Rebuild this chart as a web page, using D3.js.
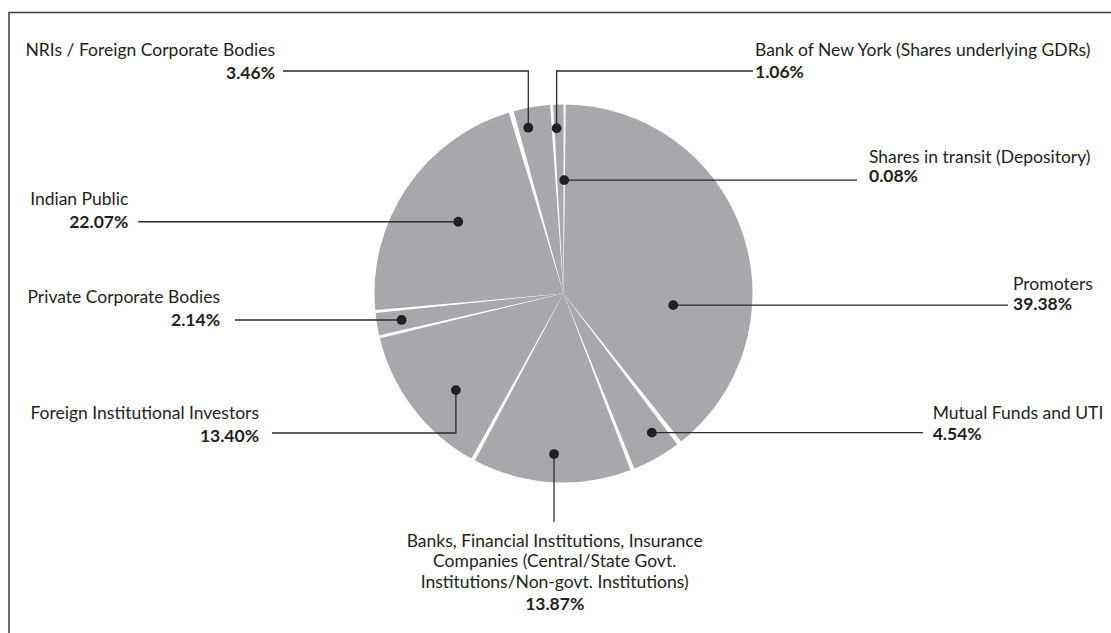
<!DOCTYPE html>
<html>
<head>
<meta charset="utf-8">
<script src="https://cdn.jsdelivr.net/npm/d3@7/dist/d3.min.js"></script>
<style>
  html, body { margin: 0; padding: 0; background: #ffffff; }
  svg { display: block; }
  text { font-family: Lato, "Open Sans", "Noto Sans", sans-serif; fill: #231f20; }
</style>
</head>
<body>
<svg id="chart" width="1111" height="633"></svg>
<script>
// Shareholding pattern (percent of equity)
const categories = [
  ["Promoters"],
  ["Mutual Funds and UTI"],
  ["Banks, Financial Institutions, Insurance", "Companies (Central/State Govt.", "Institutions/Non-govt. Institutions)"],
  ["Foreign Institutional Investors"],
  ["Private Corporate Bodies"],
  ["Indian Public"],
  ["NRIs / Foreign Corporate Bodies"],
  ["Bank of New York (Shares underlying GDRs)"],
  ["Shares in transit (Depository)"]
];
const shares = [39.38, 4.54, 13.87, 13.40, 2.14, 22.07, 3.46, 1.06, 0.08];

// ---- layout ----
const W = 1111, H = 633;
const cx = 563.5, cy = 293.5, R = 189;
const startOffset = 0.5 * Math.PI / 180;
const sliceFill = "#a7a8ab";
const ink = "#231f20";
const fontSize = 17.5;

// white separator width (px at the rim) before each slice
const gapPx = [1.2, 5, 4, 4, 3, 3, 5, 3, 1.2];

// callout anchor: position inside slice (t along the angle, rf of radius),
// leader route and label placement
const callouts = [
  { t: 0.674, rf: 0.584, route: [["h", 1008]], lx: 1013, anchor: "start", ly: [290, 309.5] },
  { t: 0.326, rf: 0.872, route: [["h", 923]], lx: 932.7, anchor: "start", ly: [419.3, 439.5] },
  { t: 0.496, rf: 0.851, route: [["v", 522]], lx: 554.7, anchor: "middle", ly: [546.7, 567.3, 587.5, 609.5] },
  { t: 0.405, rf: 0.765, route: [["v", 433], ["h", 272]], lx: 259, anchor: "end", ly: [419.3, 441.5] },
  { t: 0.51, rf: 0.868, route: [["h", 235]], lx: 220, anchor: "end", ly: [303.3, 326] },
  { t: 0.501, rf: 0.674, route: [["h", 138.3]], lx: 128.3, anchor: "end", ly: [205, 227.5] },
  { t: 0.327, rf: 0.897, route: [["v", 71], ["h", 283]], lx: 275, anchor: "end", ly: [56, 79] },
  { t: 0.32, rf: 0.875, route: [["v", 71], ["h", 753]], lx: 755, anchor: "start", ly: [55.5, 77.5] },
  { t: 0.5, rf: 0.6, route: [["h", 857]], lx: 869, anchor: "start", ly: [162.5, 182] }
];

const svg = d3.select("#chart");

// frame: top and left rules
svg.append("path")
  .attr("d", `M9,${H} L9,12.5 L${W},12.5`)
  .attr("fill", "none")
  .attr("stroke", "#3a3a3a")
  .attr("stroke-width", 1.5);

const pie = d3.pie()
  .sort(null)
  .value(d => d)
  .startAngle(startOffset)
  .endAngle(startOffset + 2 * Math.PI);

const arcs = pie(shares);
const arc = d3.arc().innerRadius(0).outerRadius(R);

const g = svg.append("g").attr("transform", `translate(${cx},${cy})`);

g.selectAll("path.slice")
  .data(arcs)
  .join("path")
  .attr("class", "slice")
  .attr("d", arc)
  .attr("fill", sliceFill);

// tapered white separators between slices
const sepArc = d3.arc().innerRadius(0).outerRadius(R + 2);
g.selectAll("path.sep")
  .data(arcs)
  .join("path")
  .attr("class", "sep")
  .attr("d", (d, i) => {
    const half = gapPx[i] / R / 2;
    return sepArc({ startAngle: d.startAngle - half, endAngle: d.startAngle + half });
  })
  .attr("fill", "#ffffff");

// callout anchors computed inside each slice
const anchors = arcs.map((d, i) => {
  const c = callouts[i];
  const a = d.startAngle + c.t * (d.endAngle - d.startAngle);
  const r = c.rf * R;
  return [cx + r * Math.sin(a), cy - r * Math.cos(a)];
});

// leader lines
const line = d3.line();
svg.append("g")
  .selectAll("path")
  .data(callouts)
  .join("path")
  .attr("d", (c, i) => {
    let [x, y] = anchors[i];
    const pts = [[x, y]];
    c.route.forEach(([dir, v]) => {
      if (dir === "h") x = v; else y = v;
      pts.push([x, y]);
    });
    return line(pts);
  })
  .attr("fill", "none")
  .attr("stroke", "#2b2b2b")
  .attr("stroke-width", 1.3);

// anchor dots
svg.append("g")
  .selectAll("circle")
  .data(anchors)
  .join("circle")
  .attr("cx", d => d[0])
  .attr("cy", d => d[1])
  .attr("r", 4.9)
  .attr("fill", ink);

// labels: category name lines, then the bold percentage
const fmt = d3.format(".2f");
const labels = svg.append("g")
  .selectAll("text")
  .data(callouts.map((c, i) => ({ c, i })))
  .join("text")
  .attr("text-anchor", d => d.c.anchor)
  .attr("font-size", fontSize);

labels.each(function (d) {
  const t = d3.select(this);
  const lines = categories[d.i];
  lines.forEach((s, k) => {
    t.append("tspan")
      .attr("x", d.c.lx)
      .attr("y", d.c.ly[k])
      .text(s);
  });
  t.append("tspan")
    .attr("x", d.c.lx)
    .attr("y", d.c.ly[lines.length])
    .attr("font-weight", 700)
    .text(fmt(shares[d.i]) + "%");
});
</script>
</body>
</html>
